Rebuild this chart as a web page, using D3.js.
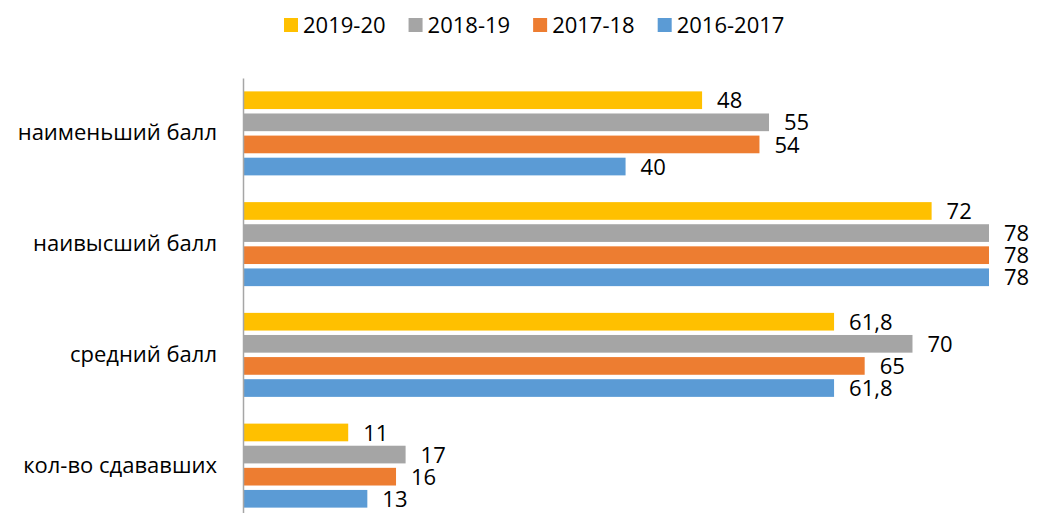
<!DOCTYPE html>
<html>
<head>
<meta charset="utf-8">
<script src="https://cdn.jsdelivr.net/npm/d3@7"></script>
<style>
  html, body { margin: 0; padding: 0; background: #fff; }
  svg { display: block; font-family: "Open Sans", "Noto Sans", sans-serif; }
</style>
</head>
<body>
<div id="chart"></div>
<script>
const categories = ["наименьший балл", "наивысший балл", "средний балл", "кол-во сдававших"];
const seriesNames = ["2019-20", "2018-19", "2017-18", "2016-2017"];
const values2019 = [48, 72, 61.8, 11];
const values2018 = [55, 78, 70, 17];
const values2017 = [54, 78, 65, 16];
const values2016 = [40, 78, 61.8, 13];
const colours = ["#FFC000", "#A5A5A5", "#ED7D31", "#5B9BD5"];

const seriesValues = [values2019, values2018, values2017, values2016];

const width = 1037, height = 513;
const fontSize = "22px";
const svg = d3.select("#chart").append("svg")
    .attr("width", width)
    .attr("height", height);

// comma as decimal separator
const fmt = d3.formatLocale({decimal: ",", thousands: " ", grouping: [3], currency: ["", ""]}).format("~g");

// scales
const x = d3.scaleLinear().domain([0, 78]).range([243, 989]);

const y0 = d3.scaleBand()
    .domain(categories)
    .range([78, 521])
    .paddingInner(0.2415)
    .paddingOuter(0.1208);

const y1 = d3.scaleBand()
    .domain(seriesNames)
    .range([0, y0.bandwidth()])
    .paddingInner(0.2)
    .paddingOuter(0);

// flatten for drawing
const rows = [];
categories.forEach((c, ci) => {
    seriesNames.forEach((s, si) => {
        rows.push({cat: c, series: s, value: seriesValues[si][ci], colour: colours[si]});
    });
});

svg.selectAll("rect.bar")
    .data(rows)
    .enter()
    .append("rect")
    .attr("class", "bar")
    .attr("x", x(0))
    .attr("y", d => y0(d.cat) + y1(d.series))
    .attr("width", d => x(d.value) - x(0))
    .attr("height", y1.bandwidth())
    .style("fill", d => d.colour);

svg.selectAll("text.val")
    .data(rows)
    .enter()
    .append("text")
    .attr("class", "val")
    .attr("x", d => x(d.value) + 15)
    .attr("y", d => y0(d.cat) + y1(d.series) + y1.bandwidth() / 2)
    .attr("dy", "0.37em")
    .style("font-size", fontSize)
    .style("fill", "#000")
    .text(d => fmt(d.value));

// category axis
const yAxis = svg.append("g")
    .attr("transform", "translate(" + x(0) + ",0)")
    .call(d3.axisLeft(y0).tickSize(0).tickPadding(26).tickSizeOuter(0));
yAxis.select(".domain").attr("stroke", "#A6A6A6").attr("stroke-width", 1.5);
yAxis.selectAll("text")
    .style("font-size", fontSize)
    .style("font-family", "'Open Sans', 'Noto Sans', sans-serif")
    .attr("fill", "#000");

// legend
const legend = svg.append("g");
let lx = 284;
seriesNames.forEach((s, i) => {
    const g = legend.append("g").attr("transform", "translate(" + lx + ",0)");
    g.append("rect")
        .attr("x", 0).attr("y", 18)
        .attr("width", 14).attr("height", 14)
        .style("fill", colours[i]);
    const t = g.append("text")
        .attr("x", 19).attr("y", 32.5)
        .style("font-size", fontSize)
        .style("fill", "#000")
        .text(s);
    lx += 19 + t.node().getComputedTextLength() + 23;
});
</script>
</body>
</html>
